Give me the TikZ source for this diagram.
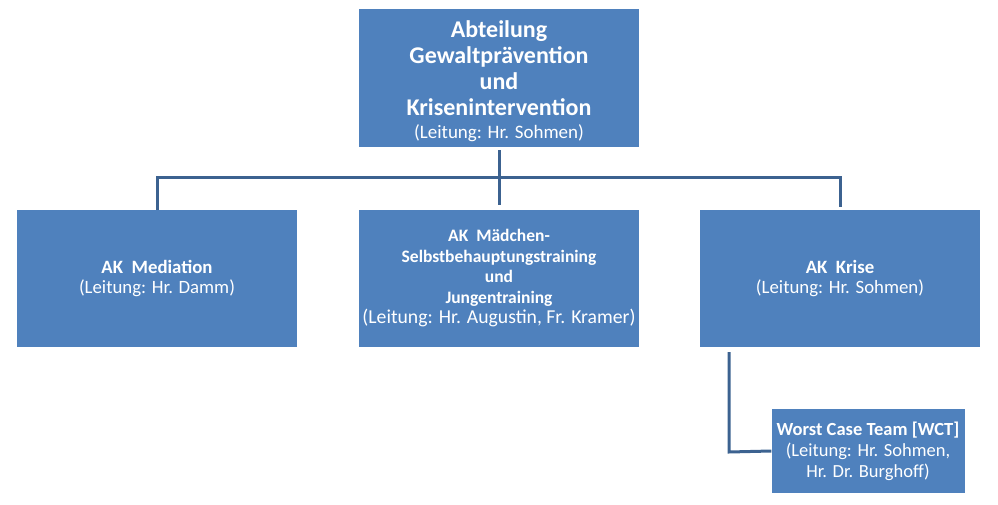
\documentclass[tikz,border=0pt]{standalone}
\usepackage{fontspec}
\setmainfont{Carlito}
\usepackage{xcolor}
\usepackage{tikz}

\definecolor{boxblue}{HTML}{4F81BD}
\definecolor{lineblue}{HTML}{3C6290}

\tikzset{
    orgbox/.style={fill=boxblue, text=white, align=center, inner sep=0pt,
        minimum width=280pt, minimum height=137pt,
        font=\fontsize{18.8}{20.5}\selectfont},
    link/.style={draw=lineblue, line width=3pt}
}

\begin{document}
\begin{tikzpicture}[x=1pt,y=-1pt]
    \useasboundingbox (0,0) rectangle (998,505);
        % boxes
    \node[orgbox, minimum height=138pt, font=\fontsize{24}{26}\selectfont\bfseries] (abt) at (499,78)
        {\rule{0pt}{24pt}Abteilung\\Gewaltprävention\\und\\Krisenintervention\\[-3pt]
         \fontsize{19}{24}\selectfont\mdseries (Leitung: Hr. Sohmen)};
    \node[orgbox] (med) at (157,278.5)
        {\textbf{AK\ \ Mediation}\\(Leitung: Hr. Damm)};
    \node[orgbox, font=\fontsize{17.5}{20.5}\selectfont\bfseries] (mjt) at (499,278.5)
        {AK\ \ Mädchen-\\Selbstbehauptungstraining\\und\\Jungentraining\\
         \fontsize{19.7}{20.5}\selectfont\mdseries (Leitung: Hr. Augustin, Fr. Kramer)};
    \node[orgbox] (krise) at (840,278.5)
        {\textbf{AK\ \ Krise}\\(Leitung: Hr. Sohmen)};
    \node[orgbox, minimum width=193pt, minimum height=84pt,
          font=\fontsize{18.5}{21}\selectfont] (wct) at (868,451)
        {\textbf{Worst Case Team [WCT]}\\(Leitung: Hr. Sohmen,\\Hr. Dr. Burghoff)};
        % connectors
    \coordinate (bus) at (499,178);
    \coordinate (elbow) at (729,452);
    \draw[link, shorten <=3pt, shorten >=5pt] (abt.south) -- (mjt.north);
    \draw[link, shorten >=3pt] (med.north) |- (bus) -| (krise.north);
    \draw[link] ([yshift=-5pt]krise.south -| elbow) -- (elbow) -- (wct.west);
\end{tikzpicture}
\end{document}
